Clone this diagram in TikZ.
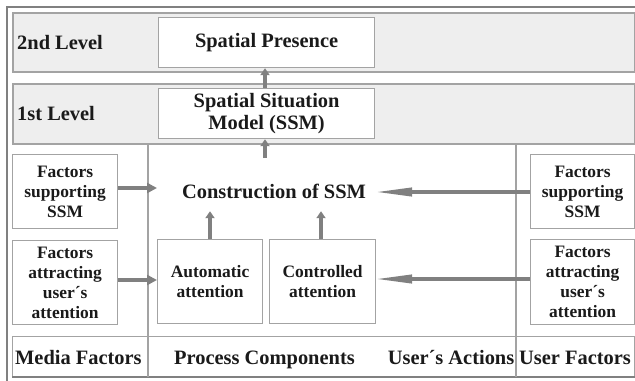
\documentclass[tikz,border=0pt]{standalone}
\usepackage{fontspec}
\setmainfont{Liberation Serif}
\usetikzlibrary{arrows.meta}
\definecolor{framegray}{HTML}{808080}
\definecolor{bandfill}{HTML}{EEEEEE}
\definecolor{linegray}{HTML}{A3A3A3}
\definecolor{arrgray}{HTML}{808080}
\definecolor{txt}{HTML}{1A1A1A}
\begin{document}
\begin{tikzpicture}[x=1bp,y=-1bp,
  band/.style={draw=linegray, line width=1.5bp, fill=bandfill, anchor=north west, inner sep=0},
  box/.style={draw=linegray, line width=1.2bp, fill=white, anchor=north west, inner sep=0,
    align=center, font=\fontsize{17.5}{20}\selectfont\bfseries, text=txt},
  bigbox/.style={box, font=\fontsize{20.5}{22}\selectfont\bfseries},
  lbl/.style={inner sep=0, font=\fontsize{20.5}{22}\selectfont\bfseries, text=txt},
  sep/.style={draw=linegray, line width=1.2bp},
  uparr/.style={draw=arrgray, line width=4bp, -{Triangle[length=7bp,width=9bp]}},
  shortarr/.style={draw=arrgray, line width=4.5bp, -{Triangle[length=10bp,width=10bp]}},
  longarr/.style={draw=arrgray, line width=4bp, -{Triangle[length=39bp,width=8bp]}}
]
\useasboundingbox (0,0) rectangle (635,380);
% outer frame
\draw[framegray, line width=2bp] (7,381) -- (7,7) -- (636,7);
% level bands
\node[band, minimum width=622bp, minimum height=59bp] (band2) at (12,12) {};
\node[band, minimum width=622bp, minimum height=60bp] (band1) at (12,83) {};
\node[lbl, anchor=base west] (lev2) at (17,49) {2nd Level};
\node[lbl, anchor=base west] (lev1) at (17,120) {1st Level};
\node[bigbox, minimum width=216bp, minimum height=50bp] (sp) at (158,17) {Spatial Presence};
\node[bigbox, minimum width=216bp, minimum height=50bp] (ssm) at (158,88) {Spatial Situation\\Model (SSM)};
% bottom row and columns
\node[draw=linegray, line width=1.2bp, anchor=north west, inner sep=0, minimum width=622bp, minimum height=40bp] (brow) at (12,336) {};
\draw[framegray, line width=1.5bp] (brow.south west) -- (brow.south east);
\coordinate (c1) at (148,143);
\coordinate (c2) at (516,143);
\draw[sep] (c1) -- (c1 |- brow.south);
\draw[sep] (c2) -- (c2 |- brow.south);
\node[lbl, anchor=base west] (mf) at (15,364.5) {Media Factors};
\node[lbl, anchor=base west] (pc) at (174,364.5) {Process Components};
\node[lbl, anchor=base east] (ua) at (514.5,364.5) {User´s Actions};
\node[lbl, anchor=base west] (uf) at (519,364.5) {User Factors};
% boxes
\node[box, minimum width=105bp, minimum height=74bp] (lsup) at (12,154) {Factors\\supporting\\SSM};
\node[box, minimum width=105bp, minimum height=84bp] (latt) at (12,240) {Factors\\attracting\\user´s\\attention};
\node[box, minimum width=105bp, minimum height=84bp] (auto) at (157,239) {Automatic\\attention};
\node[box, minimum width=106bp, minimum height=84bp] (ctrl) at (269,239) {Controlled\\attention};
\node[box, minimum width=104bp, minimum height=74bp] (rsup) at (530,154) {Factors\\supporting\\SSM};
\node[box, minimum width=104bp, minimum height=85bp] (ratt) at (530,239) {Factors\\attracting\\user´s\\attention};
\node[lbl, minimum height=40bp] (constr) at (274,191) {Construction of SSM};
\coordinate (ctop) at (265,158);
% arrows
\draw[uparr] (ssm.north -| 265,0) -- (sp.south -| 265,0);
\draw[uparr] (ctop) -- (ctop |- ssm.south);
\draw[uparr] (auto.north -| 210,0) -- (210,0 |- constr.south);
\draw[uparr] (ctrl.north -| 321,0) -- (321,0 |- constr.south);
\draw[shortarr] (lsup.east |- 0,188) -- (auto.west |- 0,188);
\draw[shortarr] (latt.east |- 0,280) -- (auto.west |- 0,280);
\draw[longarr, shorten >=-3bp] (rsup.west |- 0,192) -- (ctrl.east |- 0,192);
\draw[longarr, shorten >=-3bp] (ratt.west |- 0,279) -- (ctrl.east |- 0,279);
\end{tikzpicture}
\end{document}
